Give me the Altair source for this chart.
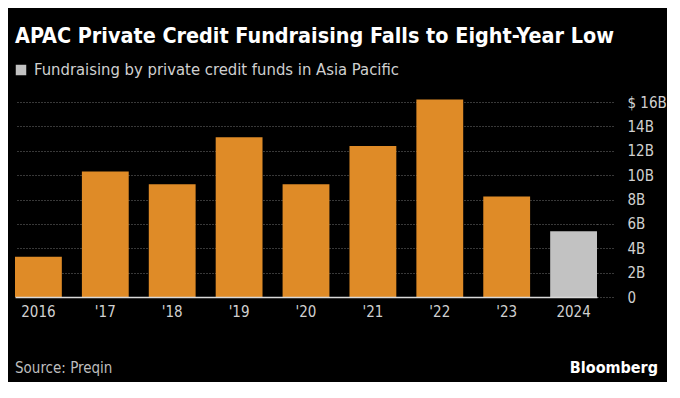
import altair as alt
import pandas as pd

years = ["2016", "'17", "'18", "'19", "'20", "'21", "'22", "'23", "2024"]
values = [3.3, 10.3, 9.25, 13.1, 9.25, 12.4, 16.2, 8.25, 5.4]
status = ["full"] * 8 + ["ytd"]

title = "APAC Private Credit Fundraising Falls to Eight-Year Low"
subtitle = "Fundraising by private credit funds in Asia Pacific"
source = "Source: Preqin"
brand = "Bloomberg"

FONT = "Liberation Sans Narrow, DejaVu Sans Condensed, Roboto, sans-serif"

df = pd.DataFrame({"year": years, "value": values, "status": status})

W, H = 582, 195

bars = alt.Chart(df).mark_bar().encode(
    x=alt.X(
        "year:N", sort=years,
        scale=alt.Scale(paddingInner=0.3, paddingOuter=0),
        axis=alt.Axis(title=None, labelAngle=0, ticks=False, domain=True,
                      domainColor="#d9d9d9", domainWidth=1.5, labelColor="#d0d0d0",
                      labelFontSize=15, labelPadding=7, grid=False, zindex=1,
                      labelFont=FONT),
    ),
    y=alt.Y(
        "value:Q", scale=alt.Scale(domain=[0, 16], nice=False),
        axis=alt.Axis(orient="right", values=list(range(0, 17, 2)), title=None,
                      labelExpr="datum.value == 16 ? '$ 16B' : (datum.value == 0 ? '0' : datum.value + 'B')",
                      domain=False, grid=True, gridDash=[1, 2], gridColor="#707070",
                      tickSize=18, tickDash=[1, 2], tickColor="#707070",
                      labelPadding=12, labelColor="#d0d0d0", labelFontSize=15,
                      labelFont=FONT),
    ),
    color=alt.Color("status:N", scale=alt.Scale(domain=["full", "ytd"], range=["#DF8B27", "#C2C2C2"]), legend=None),
)

one = alt.Data(values=[{}])

t_title = alt.Chart(one).mark_text(text=title, font=FONT, fontSize=21.4, fontWeight="bold",
                                   color="white", align="left", baseline="middle").encode(
    x=alt.value(0), y=alt.value(-65))
t_square = alt.Chart(one).mark_square(size=110, color="#C2C2C2", opacity=1).encode(
    x=alt.value(6), y=alt.value(-32))
t_sub = alt.Chart(one).mark_text(text=subtitle, font=FONT, fontSize=16.5, color="#d0d0d0",
                                 align="left", baseline="middle").encode(
    x=alt.value(19), y=alt.value(-32))
t_source = alt.Chart(one).mark_text(text=source, font=FONT, fontSize=15, color="#bdbdbd",
                                    align="left", baseline="middle").encode(
    x=alt.value(0), y=alt.value(266))
t_brand = alt.Chart(one).mark_text(text=brand, font=FONT, fontSize=16, fontWeight="bold",
                                   color="white", align="right", baseline="middle").encode(
    x=alt.value(643), y=alt.value(266))

chart = alt.layer(bars, t_title, t_square, t_sub, t_source, t_brand).properties(
    width=W, height=H,
    autosize="none",
    padding={"left": 7, "top": 94, "right": 70, "bottom": 85},
    background="black",
).configure_view(stroke=None)

chart.save("out.html", embed_options={"renderer": "svg", "actions": False})
